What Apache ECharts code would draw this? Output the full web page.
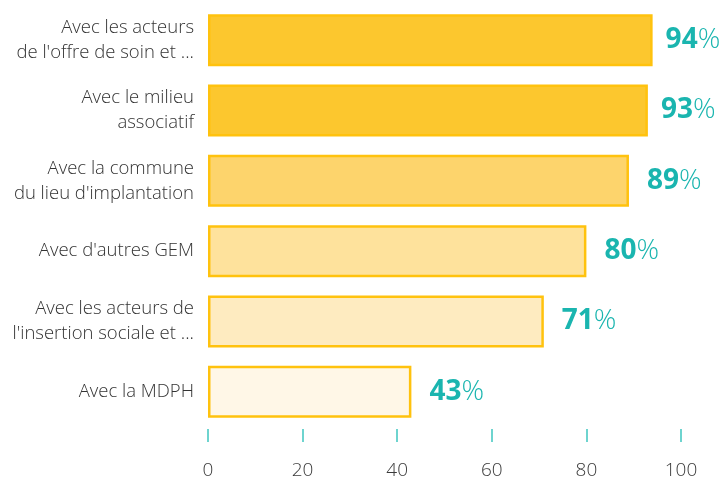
<!DOCTYPE html>
<html>
<head>
<meta charset="utf-8">
<script src="https://cdn.jsdelivr.net/npm/echarts@6/dist/echarts.min.js"></script>
<style>
  html, body { margin: 0; padding: 0; background: #fff; }
  #chart { width: 720px; height: 480px; }
</style>
</head>
<body>
<div id="chart"></div>
<script>
// Partnerships of the GEM, share in percent
const categories = [
  "Avec les acteurs\nde l'offre de soin et ...",
  "Avec le milieu\nassociatif",
  "Avec la commune\ndu lieu d'implantation",
  "Avec d'autres GEM",
  "Avec les acteurs de\nl'insertion sociale et ...",
  "Avec la MDPH"
];
const values = [94, 93, 89, 80, 71, 43];
const fills = ['#FCC72E', '#FCC72E', '#FDD46C', '#FEE29C', '#FEEBC0', '#FFF7E7'];
const xTicks = [0, 20, 40, 60, 80, 100];

const teal = '#1AB5AF';
const chart = echarts.init(document.getElementById('chart'));

chart.setOption({
  animation: false,
  grid: { left: 208, right: 39, top: 5, bottom: 53 },
  xAxis: {
    type: 'value',
    min: xTicks[0],
    max: xTicks[xTicks.length - 1],
    interval: 20,
    offset: 2,
    axisLine: { show: false },
    axisTick: { show: true, length: 13, lineStyle: { color: '#3FC6C0', width: 1.5 } },
    splitLine: { show: false },
    axisLabel: {
      margin: 32,
      color: '#3a3a3a',
      fontSize: 19,
      fontFamily: 'Open Sans',
      fontWeight: 300
    }
  },
  yAxis: {
    type: 'category',
    inverse: true,
    data: categories,
    axisLine: { show: false },
    axisTick: { show: false },
    axisLabel: {
      margin: 14,
      color: '#333',
      fontSize: 18.5,
      lineHeight: 25,
      fontFamily: 'Open Sans',
      fontWeight: 300,
      align: 'right'
    }
  },
  series: [{
    type: 'bar',
    barCategoryGap: '26%',
    data: values.map((v, i) => ({
      value: v,
      itemStyle: { color: fills[i], borderColor: '#FFC20E', borderWidth: 2.5 },
      // keep the widest labels inside the canvas
      label: { distance: v >= 93 ? 13 : 18 }
    })),
    label: {
      show: true,
      position: 'right',
      formatter: p => '{n|' + p.value + '}{p|%}',
      rich: {
        n: { color: teal, fontSize: 28, fontWeight: 'bold', fontFamily: 'Open Sans' },
        p: { color: teal, fontSize: 28, fontWeight: 300, fontFamily: 'Open Sans' }
      }
    }
  }]
});
</script>
</body>
</html>
